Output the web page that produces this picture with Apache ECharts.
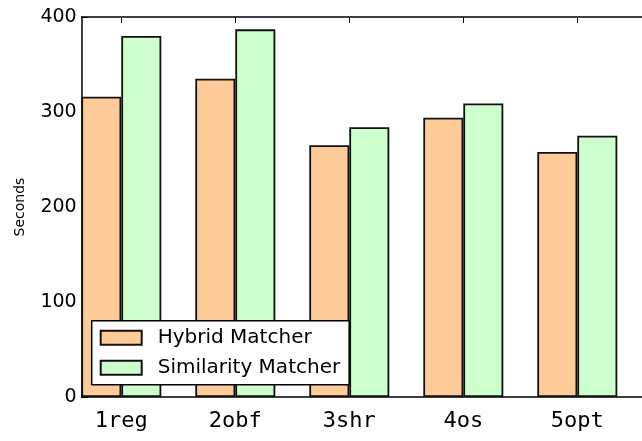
<!DOCTYPE html>
<html>
<head>
<meta charset="utf-8">
<script src="https://cdn.jsdelivr.net/npm/echarts@6/dist/echarts.min.js"></script>
<style>
  html, body { margin: 0; padding: 0; background: #fff; }
  #chart { width: 642px; height: 441px; }
</style>
</head>
<body>
<div id="chart"></div>
<script>
// Run time (seconds) per benchmark for the two matchers
const categories = ['1reg', '2obf', '3shr', '4os', '5opt'];
const seriesNames = ['Hybrid Matcher', 'Similarity Matcher'];
const hybridValues = [316, 335, 265, 294, 258];
const similarityValues = [380, 387, 284, 309, 275];
const yTicks = { min: 0, max: 400, interval: 100 };
const yAxisTitle = 'Seconds';

const chart = echarts.init(document.getElementById('chart'), null, { renderer: 'canvas' });

const plotTop = 17;
const plotHeight = 380;
const bandWidth = 114;
const frameLeft = 81.7;
const bandLeft = 64.3;
const lineStyle = { color: '#000', width: 1.5 };

chart.setOption({
  backgroundColor: '#fff',
  animation: false,
  grid: [
    // bars + labels
    { left: bandLeft, top: plotTop, width: bandWidth * categories.length, height: plotHeight },
    // frame lines (open on the right)
    { left: frameLeft, top: plotTop, width: 600, height: plotHeight }
  ],
  legend: {
    orient: 'vertical',
    left: 91.7,
    top: 320.7,
    padding: [7, 9, 7, 8],
    icon: 'rect',
    itemWidth: 41,
    itemHeight: 14,
    itemGap: 10,
    backgroundColor: '#fff',
    borderColor: '#000',
    borderWidth: 1.5,
    borderRadius: 0,
    textStyle: {
      fontFamily: 'DejaVu Sans',
      fontSize: 20,
      lineHeight: 20,
      color: '#000',
      padding: [0, 0, 0, 11]
    },
    data: seriesNames
  },
  xAxis: [
    {
      type: 'category',
      gridIndex: 0,
      position: 'bottom',
      data: categories,
      axisLine: { show: false },
      axisTick: { show: false },
      axisLabel: {
        fontFamily: 'DejaVu Sans Mono',
        fontSize: 22,
        color: '#000',
        margin: 13
      }
    },
    {
      type: 'category',
      gridIndex: 0,
      position: 'top',
      data: categories,
      axisLine: { show: false },
      axisTick: { show: true, inside: true, alignWithLabel: true, length: 6, lineStyle: { color: '#000', width: 1 } },
      axisLabel: { show: false }
    },
    {
      type: 'value',
      gridIndex: 1,
      position: 'bottom',
      min: 0, max: 1,
      axisLine: { show: true, lineStyle: lineStyle },
      axisTick: { show: false },
      axisLabel: { show: false },
      splitLine: { show: false }
    },
    {
      type: 'value',
      gridIndex: 1,
      position: 'top',
      min: 0, max: 1,
      axisLine: { show: true, lineStyle: lineStyle },
      axisTick: { show: false },
      axisLabel: { show: false },
      splitLine: { show: false }
    }
  ],
  yAxis: [
    {
      type: 'value',
      gridIndex: 0,
      min: yTicks.min,
      max: yTicks.max,
      interval: yTicks.interval,
      offset: bandLeft - frameLeft,
      name: yAxisTitle,
      nameLocation: 'middle',
      nameRotate: 90,
      nameGap: 54,
      nameTextStyle: { fontFamily: 'DejaVu Sans', fontSize: 14, color: '#000' },
      axisLine: { show: true, lineStyle: lineStyle },
      axisTick: { show: true, inside: true, length: 6, lineStyle: { color: '#000', width: 1 } },
      axisLabel: { fontFamily: 'DejaVu Sans', fontSize: 19, color: '#000', margin: 5 },
      splitLine: { show: false }
    },
    {
      type: 'value',
      gridIndex: 1,
      min: 0, max: 1,
      show: false
    }
  ],
  series: [
    {
      name: seriesNames[0],
      type: 'bar',
      xAxisIndex: 0,
      yAxisIndex: 0,
      data: hybridValues,
      barWidth: 40,
      barGap: '0%',
      itemStyle: { color: '#FFCC99', borderColor: '#111', borderWidth: 1.8 }
    },
    {
      name: seriesNames[1],
      type: 'bar',
      xAxisIndex: 0,
      yAxisIndex: 0,
      data: similarityValues,
      barWidth: 40,
      barGap: '0%',
      itemStyle: { color: '#CCFFCC', borderColor: '#111', borderWidth: 1.8 }
    }
  ]
});
</script>
</body>
</html>
